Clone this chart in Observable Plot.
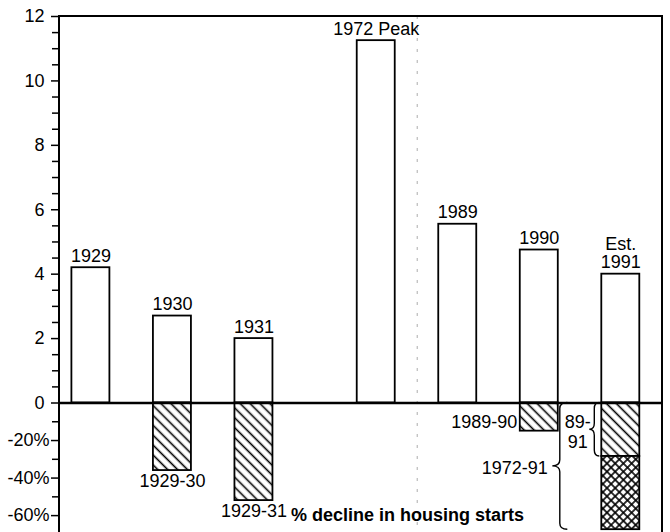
<!DOCTYPE html>
<html><head><meta charset="utf-8">
<script src="https://cdn.jsdelivr.net/npm/d3@7"></script>
<script src="https://cdn.jsdelivr.net/npm/@observablehq/plot@0.6"></script>
<style>
html,body{margin:0;padding:0;background:#fff;overflow:hidden}
</style></head><body><div id="chart"></div>
<script>
// ---- data ----
// x slots: bars sit on the year slots, empty "s#" slots are spacers between them
const slots = ["1929", "s1", "1930", "s2", "1931", "s3", "s4", "1972", "s5", "1989", "s6", "1990", "s7", "1991"];
const years = ["1929", "1930", "1931", "1972", "1989", "1990", "1991"];
const yearLabels = ["1929", "1930", "1931", "1972 Peak", "1989", "1990", "Est.\n1991"];
const starts = [4.2, 2.7, 2.0, 11.25, 5.55, 4.75, 4.0];

const declineYears = ["1930", "1931", "1990", "1991"];
const declineLabels = ["1929-30", "1929-31", "1989-90", "89-\n91"];
const declinePct = [-36, -52, -15, -28.5];

const longYears = ["1991"];
const longLabels = ["1972-91"];
const longFrom = [-28.5];
const longTo = [-67.5];

const posTicks = [0, 2, 4, 6, 8, 10, 12];
const negTicks = [-20, -40, -60];
const minorTicks = [0.5, 1, 1.5, 2.5, 3, 3.5, 4.5, 5, 5.5, 6.5, 7, 7.5, 8.5, 9, 9.5, 10.5, 11, 11.5, -10, -30, -50];
const caption = ["% decline in housing starts"];

// ---- tables ----
const startsData = years.map((year, i) => ({year, label: yearLabels[i], value: starts[i]}));
const declineData = declineYears.map((year, i) => ({year, label: declineLabels[i], from: 0, to: declinePct[i]}));
const longData = longYears.map((year, i) => ({year, label: longLabels[i], from: longFrom[i], to: longTo[i]}));

const FONT = "'Liberation Sans', Arial, Helvetica, sans-serif";
const FS = 18;

const defsMark = () => {
  const defs = d3.create("svg:defs");
  const diag = defs.append("pattern").attr("id", "hatch-diag")
    .attr("patternUnits", "userSpaceOnUse").attr("width", 7).attr("height", 7)
    .attr("patternTransform", "rotate(-45)");
  diag.append("rect").attr("width", 7).attr("height", 7).attr("fill", "white");
  diag.append("line").attr("x1", 3.5).attr("y1", 0).attr("x2", 3.5).attr("y2", 7)
    .attr("stroke", "black").attr("stroke-width", 1.6);
  const cross = defs.append("pattern").attr("id", "hatch-cross")
    .attr("patternUnits", "userSpaceOnUse").attr("width", 5.8).attr("height", 5.8)
    .attr("patternTransform", "rotate(45)");
  cross.append("rect").attr("width", 5.8).attr("height", 5.8).attr("fill", "white");
  cross.append("line").attr("x1", 2.9).attr("y1", 0).attr("x2", 2.9).attr("y2", 5.8)
    .attr("stroke", "black").attr("stroke-width", 1.6);
  cross.append("line").attr("x1", 0).attr("y1", 2.9).attr("x2", 5.8).attr("y2", 2.9)
    .attr("stroke", "black").attr("stroke-width", 1.6);
  return defs.node();
};

const frameMark = (index, scales, values, dims) => {
  const {width, height, marginLeft, marginRight, marginTop} = dims;
  return d3.create("svg:path")
    .attr("d", `M${marginLeft},${height} V${marginTop} H${width - marginRight} V${height}`)
    .attr("fill", "none").attr("stroke", "black").attr("stroke-width", 2).node();
};

// curly brace "{" to the left of a band, spanning data values from..to
function braceMark(data, {gap, w}) {
  return (index, scales) => {
    const sx = scales.x, sy = scales.y;
    const g = d3.create("svg:g").attr("fill", "none").attr("stroke", "black").attr("stroke-width", 1.4);
    for (const d of data) {
      const x0 = sx(d.year) - gap;
      const ya = sy(d.from), yb = sy(d.to), ym = (ya + yb) / 2;
      const h = w / 2, q = Math.min(6, (yb - ya) / 5);
      g.append("path").attr("d",
        `M${x0},${ya} Q${x0 - h},${ya} ${x0 - h},${ya + q} L${x0 - h},${ym - q} ` +
        `Q${x0 - h},${ym} ${x0 - w},${ym} Q${x0 - h},${ym} ${x0 - h},${ym + q} ` +
        `L${x0 - h},${yb - q} Q${x0 - h},${yb} ${x0},${yb}`);
    }
    return g.node();
  };
}

const chart = Plot.plot({
  width: 670,
  height: 532,
  marginLeft: 59,
  marginRight: 8,
  marginTop: 16,
  marginBottom: 0,
  style: {fontFamily: FONT, fontSize: FS + "px", background: "white", color: "black"},
  x: {type: "band", domain: slots, range: [71.4, 639.3], paddingInner: 0.0677, paddingOuter: 0, round: false, axis: null},
  y: {type: "linear", domain: [-69, 0, 12], range: [532, 402.5, 16]},
  marks: [
    defsMark,
    Plot.ruleX(["1972"], {dx: 41, stroke: "#777", strokeOpacity: 0.6, strokeDasharray: "3,8", strokeWidth: 1}),
    Plot.barY(startsData, {x: "year", y1: 0, y2: "value", fill: "white", stroke: "black", strokeWidth: 1.8}),
    Plot.barY(declineData, {x: "year", y1: "from", y2: "to", fill: "url(#hatch-diag)", stroke: "black", strokeWidth: 1.8}),
    Plot.barY(longData, {x: "year", y1: "from", y2: "to", fill: "url(#hatch-cross)", stroke: "black", strokeWidth: 1.8}),
    Plot.ruleY([0], {strokeWidth: 2.5}),
    frameMark,
    Plot.axisY({ticks: posTicks, tickSize: 8, tickPadding: 7, strokeWidth: 1.5, fontSize: FS,
      tickFormat: d => String(d), label: null}),
    Plot.axisY({ticks: negTicks, tickSize: 8, tickPadding: 2, strokeWidth: 1.5, fontSize: FS,
      tickFormat: d => `${d}%`, label: null}),
    Plot.axisY({ticks: minorTicks, tickSize: 7, strokeWidth: 1.5, tickFormat: () => "", label: null}),
    Plot.text(startsData, {x: "year", y: "value", text: "label", lineAnchor: "bottom", dy: -6, fontSize: FS, lineHeight: 1.02}),
    Plot.text(declineData.filter(d => d.year === "1930" || d.year === "1931"),
      {x: "year", y: "to", text: "label", lineAnchor: "top", dy: 4, fontSize: FS}),
    Plot.text(declineData.filter(d => d.year === "1990"),
      {x: "year", y: "to", text: "label", textAnchor: "end", lineAnchor: "bottom", dx: -22, dy: -3, fontSize: FS}),
    Plot.text(declineData.filter(d => d.year === "1991"),
      {x: "year", y: d => d.to / 2, text: "label", lineAnchor: "middle", dx: -43, dy: 2, fontSize: FS, lineHeight: 1.08}),
    Plot.text(longData, {x: "year", y: d => d.to / 2, text: "label", textAnchor: "end", lineAnchor: "middle", dx: -73, dy: 2, fontSize: FS}),
    braceMark(declineData.filter(d => d.year === "1991"), {gap: 2, w: 10}),
    braceMark(longData.map(d => ({...d, from: 0})), {gap: 34, w: 15}),
    Plot.text(caption, {x: () => "1931", y: () => -60, text: d => d, textAnchor: "start", lineAnchor: "bottom",
      dx: 37, dy: 5, fontSize: FS, fontWeight: "bold"})
  ]
});
document.getElementById("chart").appendChild(chart);
</script>
</body></html>
